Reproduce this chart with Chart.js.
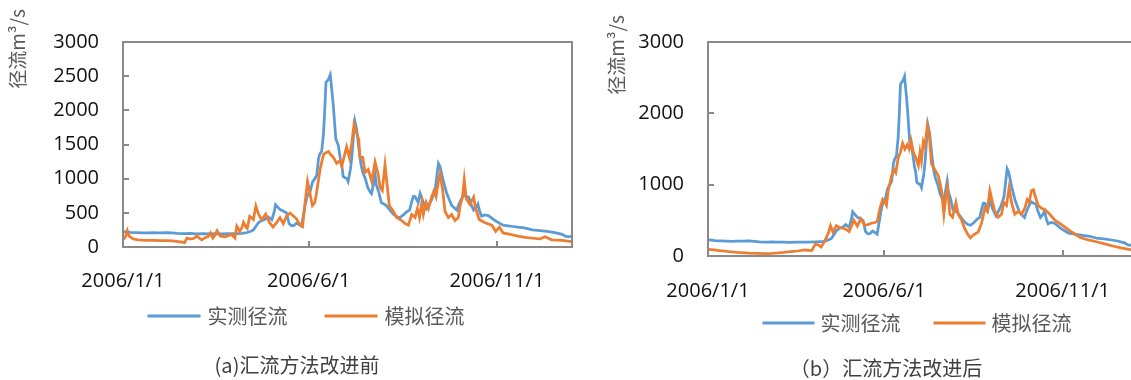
<!DOCTYPE html>
<html>
<head>
<meta charset="utf-8">
<script src="https://cdn.jsdelivr.net/npm/chart.js@4.4.1/dist/chart.umd.min.js"></script>
<style>
  body { margin: 0; width: 1131px; height: 380px; overflow: hidden; background: #fff; position: relative; }
  canvas { position: absolute; top: 0; }
  #chartA { left: 0; }
  #chartB { left: 580px; }
  .caption { position: absolute; font: 20px "Noto Sans CJK SC", sans-serif; color: #404040; white-space: nowrap; transform: translate(-50%, -50%); }
</style>
</head>
<body>
<canvas id="chartA" width="580" height="380"></canvas>
<canvas id="chartB" width="560" height="380"></canvas>
<div class="caption" style="left:297px; top:364px;">(a)汇流方法改进前</div>
<div class="caption" style="left:886px; top:367px;">（b）汇流方法改进后</div>
<script>
//x axis: days counted from 2006/1/1
const tickDays = [0, 151, 304];
const tickLabels = ["2006/1/1", "2006/6/1", "2006/11/1"];
const seriesNames = ["实测径流", "模拟径流"];

//observed runoff (same in both panels)
const obsDays = [0, 3, 6, 11, 16, 20, 25, 30, 35, 40, 44, 50, 55, 59, 65, 70, 75, 80, 86, 92, 97, 101, 104, 106, 108, 110, 113, 115, 118, 121, 123, 124, 126, 128, 131, 133, 135, 137, 139, 141, 143, 145, 147, 148, 150, 152, 154, 156, 157.5, 159, 160, 161.5, 163, 164, 165, 167, 168.5, 170, 171, 173, 175, 177, 178, 179, 181, 182, 183, 185, 186, 187.5, 188.5, 190, 192, 193.5, 195, 197, 199, 201, 202, 204, 205, 206, 208, 210, 212, 214, 217, 220, 223, 225, 228, 231, 233, 234.5, 236, 237.4, 240, 241.5, 244.2, 246.9, 251, 253.7, 256.4, 257.7, 260.5, 263.2, 267.2, 271.3, 273, 275, 277, 279, 281, 283, 285, 287, 288.5, 290, 291.5, 294, 297, 300, 303, 306, 309, 313, 317, 321, 326, 333, 339, 345, 351, 357, 360, 363, 365];
const obsValues = [225, 222, 215, 212, 208, 206, 210, 208, 212, 205, 198, 196, 198, 193, 195, 192, 196, 193, 195, 197, 200, 212, 230, 250, 300, 355, 390, 400, 440, 400, 520, 620, 580, 545, 520, 497, 343, 310, 315, 350, 330, 305, 500, 607, 760, 800, 950, 1000, 1050, 1300, 1360, 1400, 1660, 2000, 2410, 2455, 2520, 2250, 2060, 1580, 1490, 1250, 1180, 1030, 1010, 1000, 960, 1150, 1310, 1650, 1840, 1720, 1400, 1200, 1090, 1000, 870, 800, 780, 950, 1047, 900, 800, 650, 630, 607, 540, 475, 440, 431, 470, 520, 540, 650, 740, 739, 651, 783, 651, 563, 695, 827, 1223, 1179, 959, 783, 607, 541, 622, 700, 760, 740, 730, 620, 540, 580, 630, 520, 450, 470, 460, 420, 380, 350, 320, 310, 300, 290, 280, 252, 240, 228, 210, 185, 155, 150, 165];

//simulated runoff, panel (a) before the improvement
const simADays = [0, 2, 3.5, 5, 8, 12, 16, 20, 25, 30, 35, 40, 45, 48, 50, 52, 54, 56, 58, 60, 62, 64, 67, 69, 71, 73, 75, 76.5, 78, 79, 83, 86, 88, 90, 91, 92.5, 94, 95, 97, 98, 100, 101, 103, 105, 106, 108, 110, 112, 113, 116, 118, 119, 122, 125, 127.6, 130.3, 133, 135.8, 138.5, 141.2, 143.9, 146, 148, 150, 152, 154, 156, 158, 160.2, 163, 165, 167, 169, 171, 173.7, 176.4, 177.8, 179.6, 181.8, 184, 185.9, 187.8, 190, 191.6, 192.7, 194.9, 196.8, 199.4, 202.2, 204.9, 207.6, 209, 210.8, 213, 214.4, 216.5, 219.8, 222.5, 226.6, 229.3, 232, 234.7, 237.4, 239.3, 241, 242.9, 244.2, 246.4, 248.3, 251, 252.9, 254.5, 256.4, 257.7, 259.6, 261.8, 264.5, 267.2, 269.9, 272.6, 274, 276, 277.4, 279, 282, 285, 286.5, 289.5, 294, 300, 303, 306, 309, 315, 321, 327, 333, 339, 343, 348.5, 357, 365];
const simAValues = [110, 150, 240, 160, 120, 105, 100, 98, 96, 95, 94, 90, 78, 70, 62, 130, 120, 118, 130, 162, 130, 105, 140, 150, 206, 131, 180, 237, 190, 162, 150, 170, 184, 150, 131, 305, 260, 228, 300, 359, 290, 272, 447, 420, 403, 600, 490, 420, 403, 482, 400, 359, 293, 359, 431, 343, 453, 497, 453, 409, 321, 299, 651, 959, 783, 607, 651, 871, 1135, 1355, 1380, 1399, 1350, 1311, 1223, 1267, 1179, 1311, 1465, 1311, 1509, 1795, 1663, 1575, 1311, 1311, 1091, 1135, 959, 1245, 1047, 871, 827, 1201, 959, 607, 519, 431, 387, 343, 321, 475, 431, 563, 431, 651, 475, 651, 563, 739, 827, 739, 959, 1069, 871, 519, 431, 475, 387, 431, 600, 731, 985, 710, 622, 731, 578, 403, 359, 315, 228, 293, 206, 184, 160, 140, 128, 118, 149, 105, 96, 80];

//simulated runoff, panel (b) after the improvement
const simBDays = [0, 5, 10, 17, 25, 35, 42, 50, 55, 59, 65, 71, 77, 83, 89, 92, 95, 97, 100, 103, 105, 107, 110, 113, 116, 118, 121, 125, 128, 131, 134, 137, 140, 143, 145, 147.4, 149.7, 151.7, 153, 154.5, 157.4, 159.4, 161, 163, 165, 166.8, 168.8, 170.8, 172.5, 174, 176, 178.2, 180.3, 181.7, 183, 184.6, 186, 188, 189.6, 191.6, 194.5, 197.4, 200.2, 202.2, 204, 205.4, 207.3, 209.6, 212.5, 214.5, 217.4, 220.2, 223, 225, 227.3, 231.6, 234.5, 237.3, 239.3, 241.6, 243.9, 245.9, 248.8, 251.6, 253.6, 255.9, 258.1, 260.2, 263, 265.9, 268.7, 271.6, 273.6, 275.3, 277.3, 279, 280.2, 283, 285.9, 288.8, 293, 297.3, 303, 310, 319, 326, 333, 340, 347, 354, 362, 365];
const simBValues = [92, 85, 75, 63, 52, 42, 38, 33, 36, 42, 50, 63, 70, 84, 75, 167, 150, 125, 209, 313, 426, 334, 426, 397, 390, 376, 342, 501, 418, 522, 438, 440, 459, 470, 480, 669, 793, 752, 710, 917, 1125, 1208, 1167, 1374, 1456, 1581, 1498, 1560, 1498, 1622, 1456, 1374, 1270, 1456, 1332, 1602, 1540, 1830, 1705, 1291, 1208, 1125, 917, 585, 834, 959, 585, 544, 752, 585, 502, 378, 295, 253, 295, 336, 461, 669, 627, 917, 752, 627, 544, 585, 752, 710, 959, 752, 585, 627, 585, 669, 793, 752, 917, 930, 855, 710, 669, 648, 585, 502, 440, 357, 260, 225, 200, 170, 140, 115, 90, 85];

const colors = ["#5B9BD5", "#ED7D31"];

const toPoints = (days, values) => days.map((d, i) => ({ x: d, y: values[i] }));

//plot frame, rotated y title and the line legend under the axis
const framePlugin = {
  id: "frame",
  afterDatasetsDraw(chart, args, opts) {
    const { ctx, chartArea: a } = chart;
    ctx.save();
    ctx.strokeStyle = "#898989";
    ctx.lineWidth = 2;
    ctx.strokeRect(a.left, a.top, a.right - a.left, a.bottom - a.top);
    ctx.restore();
  },
  afterDraw(chart, args, opts) {
    const { ctx, chartArea: a } = chart;
    ctx.save();
    ctx.font = '19px "Noto Sans CJK SC"';
    ctx.fillStyle = "#595959";
    ctx.textAlign = "center";
    ctx.textBaseline = "middle";
    ctx.translate(opts.titleX, opts.titleY);
    ctx.rotate(-Math.PI / 2);
    ctx.fillText("径流m³/s", 0, 0);
    ctx.restore();

    // legend
    const sets = chart.data.datasets;
    ctx.save();
    ctx.font = '20px "Noto Sans CJK SC"';
    ctx.textAlign = "left";
    ctx.textBaseline = "middle";
    const widths = sets.map((d) => opts.lineLen + opts.textGap + ctx.measureText(d.label).width);
    const total = widths.reduce((s, w) => s + w, 0) + opts.itemGap * (sets.length - 1);
    let x = a.left + opts.legendCenter - total / 2;
    const y = a.bottom + opts.legendOffset;
    sets.forEach((d, i) => {
      ctx.strokeStyle = d.borderColor;
      ctx.lineWidth = 3;
      ctx.beginPath();
      ctx.moveTo(x, y);
      ctx.lineTo(x + opts.lineLen, y);
      ctx.stroke();
      ctx.fillStyle = "#595959";
      ctx.fillText(d.label, x + opts.lineLen + opts.textGap, y);
      x += widths[i] + opts.itemGap;
    });
    ctx.restore();
  },
};

function makeChart(id, simDays, simValues, cfg) {
  return new Chart(document.getElementById(id), {
    type: "line",
    plugins: [framePlugin],
    data: {
      datasets: [
        { label: seriesNames[0], data: toPoints(obsDays, obsValues), borderColor: colors[0], backgroundColor: colors[0], order: 1 },
        { label: seriesNames[1], data: toPoints(simDays, simValues), borderColor: colors[1], backgroundColor: colors[1], order: 0 },
      ],
    },
    options: {
      responsive: false,
      animation: false,
      parsing: false,
      elements: {
        line: { borderWidth: 2.75, tension: 0 },
        point: { radius: 0 },
      },
      layout: { padding: cfg.padding },
      scales: {
        x: {
          type: "linear",
          min: 0,
          max: 365,
          afterBuildTicks: (scale) => { scale.ticks = tickDays.map((v) => ({ value: v })); },
          afterFit: (scale) => { scale.height = cfg.xHeight; },
          ticks: {
            autoSkip: false,
            maxRotation: 0,
            padding: cfg.xPad,
            color: "#111",
            font: { family: "Open Sans", size: 20 },
            callback: (v) => tickLabels[tickDays.indexOf(v)],
          },
          grid: { drawOnChartArea: false, drawTicks: true, tickLength: -6, color: "#898989", lineWidth: 2 },
          border: { display: false },
        },
        y: {
          min: 0,
          max: 3000,
          afterFit: (scale) => { scale.width = cfg.yWidth; },
          ticks: {
            stepSize: cfg.step,
            padding: 30,
            color: "#111",
            font: { family: "Open Sans", size: 20 },
            callback: (v) => String(v),
          },
          grid: { drawOnChartArea: false, drawTicks: true, tickLength: -6, color: "#898989", lineWidth: 2 },
          border: { display: false },
        },
      },
      plugins: {
        tooltip: { enabled: false },
        legend: { display: false },
        frame: cfg.frame,
      },
    },
  });
}

makeChart("chartA", simADays, simAValues, {
  padding: { left: 0, right: 8, top: 19, bottom: 13 },
  yWidth: 123, xHeight: 120, xPad: 28, step: 500,
  frame: { titleX: 18, titleY: 49, legendCenter: 183, legendOffset: 69, lineLen: 53, textGap: 7, itemGap: 37 },
});

makeChart("chartB", simBDays, simBValues, {
  padding: { left: 0, right: 6, top: 18, bottom: 4 },
  yWidth: 128, xHeight: 120, xPad: 29, step: 1000,
  frame: { titleX: 37, titleY: 55, legendCenter: 209, legendOffset: 67, lineLen: 52, textGap: 6, itemGap: 33 },
});
</script>
</body>
</html>
